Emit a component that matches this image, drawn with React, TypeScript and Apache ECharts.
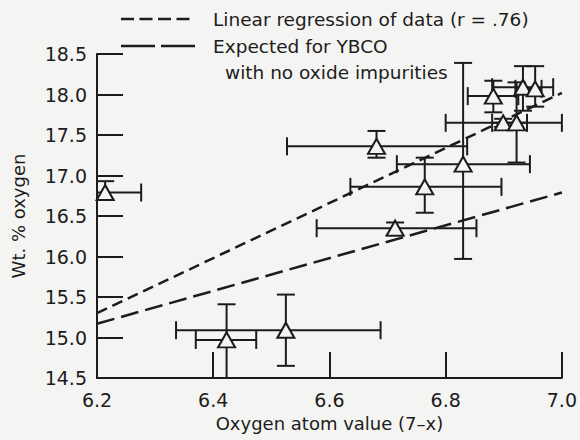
import React, { useEffect, useRef } from "react";
import * as echarts from "echarts";

// ---- data ----
const oxygenAtom = [6.214, 6.423, 6.525, 6.713, 6.764, 6.83, 6.681, 6.882, 6.933, 6.954, 6.899, 6.922];
const wtPctOxygen = [16.79, 14.97, 15.09, 16.35, 16.86, 17.14, 17.36, 17.98, 18.09, 18.07, 17.65, 17.65];
const xLow = [6.2, 6.37, 6.336, 6.578, 6.636, 6.716, 6.527, 6.838, 6.88, 6.92, 6.8, 6.88];
const xHigh = [6.276, 6.474, 6.688, 6.853, 6.896, 6.945, 6.837, 6.925, 6.985, 6.965, 7.0, 6.94];
const yLow = [16.71, 14.5, 14.65, 16.26, 16.54, 15.97, 17.22, 17.78, 17.8, 17.85, 17.6, 17.16];
const yHigh = [16.93, 15.41, 15.53, 16.42, 17.22, 18.39, 17.55, 18.17, 18.35, 18.35, 17.7, 18.15];

const regressionX = [6.2, 7.0];
const regressionY = [15.3, 18.02];
const expectedX = [6.2, 7.0];
const expectedY = [15.17, 16.79];

const xTicks = [6.2, 6.4, 6.6, 6.8, 7.0];
const yTicks = [14.5, 15.0, 15.5, 16.0, 16.5, 17.0, 17.5, 18.0, 18.5];

const INK = "#1c1c1c";
const BG = "#f4f4f2";
const FONT = "DejaVu Sans";

export default function App() {
  const ref = useRef<HTMLDivElement>(null);
  useEffect(() => {
    if (!ref.current) return;
    const chart = echarts.init(ref.current, null, { renderer: "svg" });
    const errData = oxygenAtom.map((x, i) => [x, wtPctOxygen[i], xLow[i], xHigh[i], yLow[i], yHigh[i]]);
    const option: any = {
      animation: false,
      backgroundColor: BG,
      textStyle: { fontFamily: FONT, color: INK },
      grid: { left: 97, right: 18, top: 54, bottom: 62 },
      xAxis: {
        type: "value",
        min: xTicks[0],
        max: xTicks[xTicks.length - 1],
        interval: 0.2,
        name: "Oxygen atom value (7–x)",
        nameLocation: "middle",
        nameGap: 36,
        nameTextStyle: { fontFamily: FONT, fontSize: 18, color: INK },
        axisLine: { show: true, lineStyle: { color: INK, width: 2 } },
        axisTick: { show: true, inside: true, length: 26, lineStyle: { color: INK, width: 2 } },
        axisLabel: {
          fontFamily: FONT, fontSize: 19, color: INK, margin: 12,
          formatter: (v: number) => v.toFixed(1),
        },
        splitLine: { show: false },
      },
      yAxis: {
        type: "value",
        min: yTicks[0],
        max: yTicks[yTicks.length - 1],
        interval: 0.5,
        name: "Wt. % oxygen",
        nameLocation: "middle",
        nameGap: 70,
        nameRotate: 90,
        nameTextStyle: { fontFamily: FONT, fontSize: 18, color: INK },
        axisLine: { show: true, lineStyle: { color: INK, width: 2 } },
        axisTick: { show: true, inside: true, length: 26, lineStyle: { color: INK, width: 2 } },
        axisLabel: {
          fontFamily: FONT, fontSize: 19, color: INK, margin: 10,
          formatter: (v: number) => v.toFixed(1),
        },
        splitLine: { show: false },
      },
      graphic: [
        { type: "line", shape: { x1: 121, y1: 19, x2: 195, y2: 19 }, style: { stroke: INK, lineWidth: 2.5, lineDash: [13, 5.5] } },
        { type: "text", x: 213, y: 19, style: { text: "Linear regression of data (r = .76)", fill: INK, font: `18.5px "${FONT}"`, verticalAlign: "middle" } },
        { type: "line", shape: { x1: 121, y1: 46, x2: 195, y2: 46 }, style: { stroke: INK, lineWidth: 2.5, lineDash: [34, 6] } },
        { type: "text", x: 213, y: 46, style: { text: "Expected for YBCO", fill: INK, font: `18.5px "${FONT}"`, verticalAlign: "middle" } },
        { type: "text", x: 225, y: 72, style: { text: "with no oxide impurities", fill: INK, font: `18.5px "${FONT}"`, verticalAlign: "middle" } },
      ],
      series: [
        {
          type: "custom",
          name: "Error bars",
          z: 2,
          clip: false,
          encode: { x: 0, y: 1 },
          data: errData,
          renderItem: (_p: any, api: any) => {
            const xv = api.value(0), yv = api.value(1);
            const pl = api.coord([api.value(2), yv]);
            const pr = api.coord([api.value(3), yv]);
            const pb = api.coord([xv, api.value(4)]);
            const pt = api.coord([xv, api.value(5)]);
            const cap = 9;
            const st = { stroke: INK, lineWidth: 2, fill: "none" };
            return {
              type: "group",
              children: [
                { type: "line", shape: { x1: pl[0], y1: pl[1], x2: pr[0], y2: pr[1] }, style: st },
                { type: "line", shape: { x1: pl[0], y1: pl[1] - cap, x2: pl[0], y2: pl[1] + cap }, style: st },
                { type: "line", shape: { x1: pr[0], y1: pr[1] - cap, x2: pr[0], y2: pr[1] + cap }, style: st },
                { type: "line", shape: { x1: pb[0], y1: pb[1], x2: pt[0], y2: pt[1] }, style: st },
                { type: "line", shape: { x1: pb[0] - cap, y1: pb[1], x2: pb[0] + cap, y2: pb[1] }, style: st },
                { type: "line", shape: { x1: pt[0] - cap, y1: pt[1], x2: pt[0] + cap, y2: pt[1] }, style: st },
              ],
            };
          },
        },
        {
          type: "line",
          name: "Linear regression of data (r = .76)",
          z: 3,
          showSymbol: false,
          data: regressionX.map((x, i) => [x, regressionY[i]]),
          lineStyle: { color: INK, width: 2.5, type: [11, 6] },
        },
        {
          type: "line",
          name: "Expected for YBCO with no oxide impurities",
          z: 3,
          showSymbol: false,
          data: expectedX.map((x, i) => [x, expectedY[i]]),
          lineStyle: { color: INK, width: 2.5, type: [18, 7] },
        },
        {
          type: "scatter",
          name: "Samples",
          z: 4,
          symbol: "triangle",
          symbolSize: [17, 15],
          data: oxygenAtom.map((x, i) => [x, wtPctOxygen[i]]),
          itemStyle: { color: BG, borderColor: INK, borderWidth: 2, opacity: 1 },
        },
      ],
    };
    chart.setOption(option);
    return () => chart.dispose();
  }, []);
  return (
    <div
      ref={ref}
      style={{ position: "fixed", left: 0, top: 0, width: 580, height: 440, background: BG }}
    />
  );
}
